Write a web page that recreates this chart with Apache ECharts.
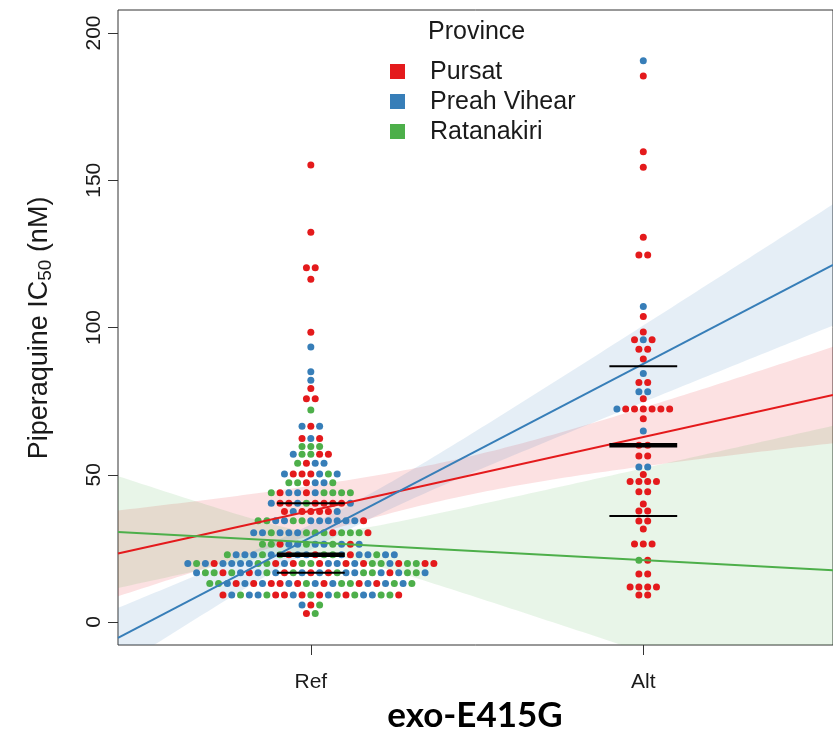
<!DOCTYPE html>
<html>
<head>
<meta charset="utf-8">
<script src="https://cdn.jsdelivr.net/npm/echarts@6/dist/echarts.min.js"></script>
<style>
html, body { margin: 0; padding: 0; background: #ffffff; }
#chart { width: 833px; height: 735px; }
</style>
</head>
<body>
<div id="chart"></div>
<script>
// Genotype groups on the x axis
const categories = ['Ref', 'Alt'];
// Provinces, their one-letter codes and colours
const provinces = ['Pursat', 'Preah Vihear', 'Ratanakiri'];
const provinceCodes = { R: 'Pursat', B: 'Preah Vihear', G: 'Ratanakiri' };
const provinceColors = ['#E41A1C', '#377EB8', '#4DAF4A'];
const yTicks = [0, 50, 100, 150, 200];

// Piperaquine IC50 (nM): each entry is [value, provinces of the isolates sharing that value]
const refRows = [
  [155.2, 'R'], [132.3, 'R'], [120.3, 'RR'], [116.4, 'R'], [98.4, 'R'],
  [93.4, 'B'], [85.0, 'B'], [82.1, 'B'], [79.3, 'R'], [75.8, 'RR'], [72.0, 'G'],
  [66.5, 'BRB'], [62.3, 'RBR'], [59.6, 'GGG'], [57.0, 'BGGRR'], [53.9, 'GRBB'],
  [50.3, 'BRRRBGB'], [47.3, 'GGRBBG'], [43.9, 'GRBBRBGGGG'], [40.3, 'BRRBGRRRRB'],
  [37.5, 'RBRRRRB'], [34.4, 'GGBBGGBBBBBBR'], [30.3, 'BBGBBBGGGRGGGR'],
  [26.4, 'GGRBBGBBGBRB'], [22.8, 'GBBBGBGRBBRGGBRBBGBB'],
  [19.9, 'BGBRBBBBGGRBRGGRBBRBRGGBRGGRR'],
  [16.7, 'BGGRGBRBGBRGBRBRGBBGGBRBGGB'],
  [13.1, 'GGBRBRBRRBRGBRBGGRBRBGBG'],
  [9.2, 'RBGBBGRRBRGRBGRGBBGGR'],
  [5.8, 'BRG'], [2.9, 'RG']
];
const altRows = [
  [190.6, 'B'], [185.4, 'R'], [159.7, 'R'], [154.4, 'R'], [130.6, 'R'], [124.6, 'RR'],
  [107.1, 'B'], [103.7, 'R'], [98.5, 'R'], [95.8, 'RBR'], [92.6, 'RR'], [89.3, 'R'],
  [84.4, 'B'], [81.3, 'RR'], [78.2, 'BB'], [75.8, 'R'], [72.3, 'BRRRRRR'], [69.0, 'R'],
  [64.9, 'B'], [60.0, 'RR'], [56.4, 'RR'], [52.6, 'BB'], [50.1, 'R'], [47.7, 'RRRR'],
  [44.2, 'RR'], [40.1, 'R'], [37.7, 'RR'], [34.3, 'RR'], [31.6, 'R'], [26.5, 'RRR'],
  [21.0, 'GR'], [16.3, 'RR'], [11.9, 'RRRR'], [9.2, 'RR']
];

// ---- layout ----
const FONT = '"Liberation Sans", Arial, Helvetica, sans-serif';
const X_MIN = -0.58, X_MAX = 1.5706;
const Y_MIN = -7.8, Y_MAX = 207.8;
const GRID = { left: 118, top: 10, right: -1, bottom: 90 };
const plotWidth = 833 - GRID.left - GRID.right;
const pxPerUnit = plotWidth / (X_MAX - X_MIN);
const DOT_STEP = 8.8 / pxPerUnit;   // horizontal spacing between neighbouring dots
const BAR_HALF = 0.102;             // half width of median / quartile bars

// Spread isolates sharing a value into a centred row around the group position
function swarm(rows, center) {
  const pts = [];
  rows.forEach(([v, codes]) => {
    const n = codes.length;
    for (let i = 0; i < n; i++) {
      pts.push({ x: center + (i - (n - 1) / 2) * DOT_STEP, v: v, p: provinceCodes[codes[i]] });
    }
  });
  return pts;
}
const refPts = swarm(refRows, 0);
const altPts = swarm(altRows, 1);

function quantile(values, q) {
  const s = values.slice().sort((a, b) => a - b);
  const h = (s.length - 1) * q;
  const lo = Math.floor(h), hi = Math.ceil(h);
  return s[lo] + (h - lo) * (s[hi] - s[lo]);
}
function mean(a) { return a.reduce((s, v) => s + v, 0) / a.length; }
function tQuant(df) {
  const z = 1.959964;
  return z + (z ** 3 + z) / (4 * df) + (5 * z ** 5 + 16 * z ** 3 + 3 * z) / (96 * df * df);
}

// Linear fit of IC50 on genotype (Ref = 0, Alt = 1) per province, with 95% confidence band
function fitProvince(name) {
  const a = refPts.filter(d => d.p === name).map(d => d.v);
  const b = altPts.filter(d => d.p === name).map(d => d.v);
  const m0 = mean(a), m1 = mean(b);
  const rss = a.reduce((s, v) => s + (v - m0) ** 2, 0) + b.reduce((s, v) => s + (v - m1) ** 2, 0);
  const df = a.length + b.length - 2;
  const sigma = Math.sqrt(rss / df);
  const t = tQuant(df);
  const fit = x => m0 + x * (m1 - m0);
  const band = [];
  const steps = 120;
  for (let i = 0; i <= steps; i++) {
    const x = X_MIN + (X_MAX - X_MIN) * i / steps;
    const se = sigma * Math.sqrt((1 - x) ** 2 / a.length + x ** 2 / b.length);
    band.push([x, fit(x) - t * se, fit(x) + t * se]);
  }
  return { line: [[X_MIN, fit(X_MIN)], [X_MAX, fit(X_MAX)]], band: band };
}

function rgba(hex, alpha) {
  const n = parseInt(hex.slice(1), 16);
  return 'rgba(' + (n >> 16) + ',' + ((n >> 8) & 255) + ',' + (n & 255) + ',' + alpha + ')';
}

const series = [];
provinces.forEach((name, i) => {
  const f = fitProvince(name);
  series.push({
    name: name + ' band', type: 'custom', coordinateSystem: 'cartesian2d',
    clip: true, silent: true, z: 1,
    data: f.band,
    renderItem: (params, api) => {
      if (params.dataIndex !== 0) return null;
      const up = f.band.map(d => api.coord([d[0], d[2]]));
      const dn = f.band.map(d => api.coord([d[0], d[1]])).reverse();
      return { type: 'polygon', shape: { points: up.concat(dn) }, style: { fill: rgba(provinceColors[i], 0.13) } };
    }
  });
});
provinces.forEach((name, i) => {
  series.push({
    name: name, type: 'scatter', symbolSize: 7, z: 3, silent: true,
    itemStyle: { color: provinceColors[i], opacity: 1 },
    data: refPts.concat(altPts).filter(d => d.p === name).map(d => [d.x, d.v])
  });
});
provinces.forEach((name, i) => {
  const f = fitProvince(name);
  series.push({
    name: name + ' fit', type: 'line', z: 4, silent: true, showSymbol: false,
    lineStyle: { color: provinceColors[i], width: 2 },
    data: f.line
  });
});

// Median (thick) and quartiles (thin) for each genotype group
const summaryBars = [];
[refPts, altPts].forEach((pts, g) => {
  const vals = pts.map(d => d.v);
  summaryBars.push([g, quantile(vals, 0.25), 2]);
  summaryBars.push([g, quantile(vals, 0.5), 4.5]);
  summaryBars.push([g, quantile(vals, 0.75), 2]);
});
series.push({
  name: 'summary', type: 'custom', coordinateSystem: 'cartesian2d', z: 5, silent: true,
  data: summaryBars,
  renderItem: (params, api) => {
    const c = api.value(0), v = api.value(1), w = api.value(2);
    const p1 = api.coord([c - BAR_HALF, v]);
    const p2 = api.coord([c + BAR_HALF, v]);
    return { type: 'line', shape: { x1: p1[0], y1: p1[1], x2: p2[0], y2: p2[1] },
      style: { stroke: '#000000', lineWidth: w } };
  }
});

// y-axis title with subscript, measured so the pieces sit side by side
const measure = (() => {
  const ctx = document.createElement('canvas').getContext('2d');
  return (text, size) => { ctx.font = size + 'px ' + FONT; return ctx.measureText(text).width; };
})();
const TITLE_SIZE = 27, SUB_SIZE = 19;
const tParts = [['Piperaquine IC', TITLE_SIZE, 0], ['50', SUB_SIZE, 6], [' (nM)', TITLE_SIZE, 0]];
const tWidth = tParts.reduce((s, p) => s + measure(p[0], p[1]), 0);
let tx = -tWidth / 2;
const titleChildren = tParts.map(p => {
  const el = { type: 'text', x: tx, y: p[2],
    style: { text: p[0], font: p[1] + 'px ' + FONT, fill: '#1a1a1a', textAlign: 'left', textVerticalAlign: 'middle' } };
  tx += measure(p[0], p[1]);
  return el;
});

const LEGEND_SIZE = 25;
const legendItems = [];
provinces.forEach((name, i) => {
  const y = 71 + i * 30;
  legendItems.push({ type: 'rect', shape: { x: 390, y: y - 7, width: 15, height: 15 }, style: { fill: provinceColors[i] } });
  legendItems.push({ type: 'text', x: 430, y: y + 1,
    style: { text: name, font: LEGEND_SIZE + 'px ' + FONT, fill: '#1a1a1a', textVerticalAlign: 'middle' } });
});

const chart = echarts.init(document.getElementById('chart'), null, { renderer: 'canvas' });
chart.setOption({
  animation: false,
  backgroundColor: '#ffffff',
  grid: { left: GRID.left, top: GRID.top, right: GRID.right, bottom: GRID.bottom,
    show: true, borderColor: '#333333', borderWidth: 1, backgroundColor: 'transparent' },
  xAxis: {
    type: 'value', min: X_MIN, max: X_MAX,
    axisLine: { show: false, onZero: false }, splitLine: { show: false },
    axisTick: { show: true, customValues: [0, 1], length: 10, lineStyle: { color: '#333333' } },
    axisLabel: { customValues: [0, 1], formatter: v => categories[Math.round(v)],
      fontFamily: FONT, fontSize: 21, color: '#1a1a1a', margin: 27 }
  },
  yAxis: {
    type: 'value', min: Y_MIN, max: Y_MAX,
    axisLine: { show: false, onZero: false }, splitLine: { show: false },
    axisTick: { show: true, customValues: yTicks, length: 10, lineStyle: { color: '#333333' } },
    axisLabel: { customValues: yTicks, rotate: 90, fontFamily: FONT, fontSize: 21, color: '#1a1a1a', margin: 13 }
  },
  series: series,
  graphic: [
    { type: 'group', x: 40, y: 328, rotation: Math.PI / 2, children: titleChildren },
    { type: 'text', x: 475, y: 716,
      style: { text: 'exo-E415G', font: 'bold 35px Lato, ' + FONT, fill: '#000000', textAlign: 'center', textVerticalAlign: 'middle' } },
    { type: 'text', x: 428, y: 32,
      style: { text: 'Province', font: LEGEND_SIZE + 'px ' + FONT, fill: '#1a1a1a', textVerticalAlign: 'middle' } }
  ].concat(legendItems)
});
</script>
</body>
</html>
